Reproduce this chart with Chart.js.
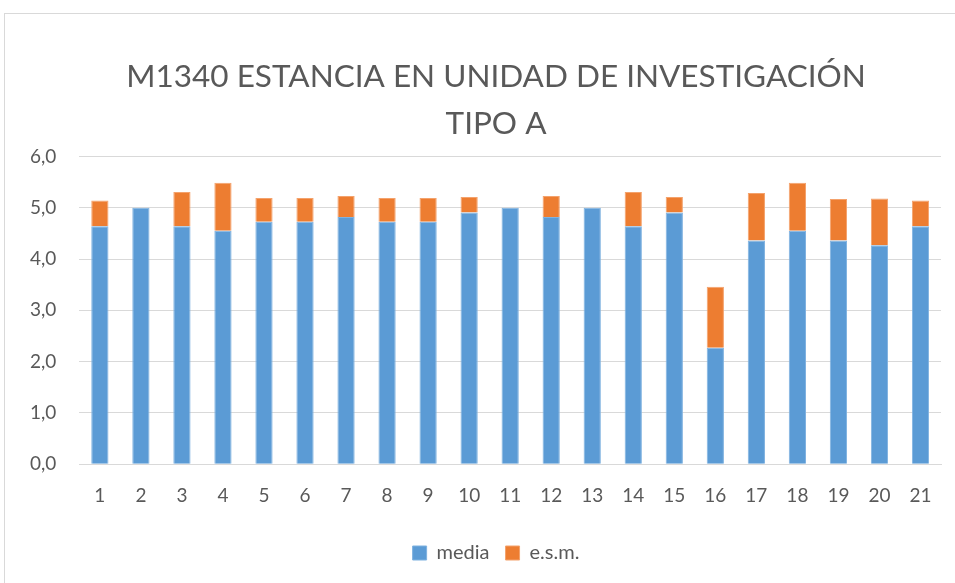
<!DOCTYPE html>
<html>
<head>
<meta charset="utf-8">
<script src="https://cdn.jsdelivr.net/npm/chart.js@4.4.1/dist/chart.umd.min.js"></script>
<style>
  html, body { margin: 0; padding: 0; background: #ffffff; }
  #wrap { position: relative; width: 955px; height: 583px; overflow: hidden; }
  #frame { position: absolute; left: 4px; top: 13px; width: 980px; height: 620px; border: 1px solid #d9d9d9; box-sizing: border-box; }
  #c { position: absolute; left: 0; top: 0; }
</style>
</head>
<body>
<div id="wrap">
  <div id="frame"></div>
  <canvas id="c" width="955" height="583"></canvas>
</div>
<script>
const categories = ["1","2","3","4","5","6","7","8","9","10","11","12","13","14","15","16","17","18","19","20","21"];
const media = [4.64, 5.00, 4.64, 4.55, 4.73, 4.73, 4.82, 4.73, 4.73, 4.91, 5.00, 4.82, 5.00, 4.64, 4.91, 2.27, 4.36, 4.55, 4.36, 4.27, 4.64];
const esm   = [0.50, 0.00, 0.67, 0.94, 0.46, 0.46, 0.41, 0.46, 0.46, 0.30, 0.00, 0.41, 0.00, 0.67, 0.30, 1.19, 0.93, 0.94, 0.81, 0.91, 0.50];
const yTicks = [0, 1, 2, 3, 4, 5, 6];
const titleLines = ["M1340 ESTANCIA EN UNIDAD DE INVESTIGACIÓN", "TIPO A"];

const FONT = "Lato, 'Open Sans', 'Liberation Sans', sans-serif";
const GREY = "#595959";

// centre the title and legend on the whole chart frame rather than the canvas
const frameCentre = {
  id: 'frameCentre',
  afterLayout(chart) {
    const t = chart.titleBlock;
    if (t) { t.left += 22; t.right += 22; }
    const l = chart.legend;
    if (l) { l.left += 22; l.right += 22; }
  }
};

new Chart(document.getElementById('c'), {
  type: 'bar',
  data: {
    labels: categories,
    datasets: [
      { label: 'media', data: media, backgroundColor: '#5b9bd5', borderColor: '#7fb2e0', borderWidth: 1, barPercentage: 0.42, categoryPercentage: 1.0 },
      { label: 'e.s.m.', data: esm, backgroundColor: '#ed7d31', borderColor: '#f4a26c', borderWidth: 1, barPercentage: 0.42, categoryPercentage: 1.0 }
    ]
  },
  plugins: [frameCentre],
  options: {
    responsive: false,
    animation: false,
    layout: { padding: { left: 7, right: 14, top: 53, bottom: 10 } },
    plugins: {
      title: {
        display: true,
        text: titleLines,
        color: GREY,
        font: { family: FONT, size: 31.5, weight: 'normal', lineHeight: 1.5 },
        padding: { top: 0, bottom: 9 }
      },
      legend: {
        position: 'bottom',
        labels: {
          color: GREY,
          font: { family: FONT, size: 20 },
          boxWidth: 14, boxHeight: 14, padding: 16, useBorderRadius: false
        }
      },
      tooltip: { enabled: false }
    },
    scales: {
      x: {
        stacked: true,
        grid: { display: false, drawTicks: false },
        border: { display: true, color: '#d9d9d9', width: 1 },
        ticks: { color: GREY, font: { family: FONT, size: 19 }, padding: 20, maxRotation: 0 }
      },
      y: {
        stacked: true,
        min: 0, max: 6,
        afterBuildTicks: (axis) => { axis.ticks = yTicks.map(v => ({ value: v })); },
        grid: { color: '#d9d9d9', lineWidth: 1, drawTicks: false },
        border: { display: false },
        ticks: {
          color: GREY, font: { family: FONT, size: 19 }, padding: 23,
          callback: (v) => Number(v).toFixed(1).replace('.', ',')
        }
      }
    }
  }
});
</script>
</body>
</html>
